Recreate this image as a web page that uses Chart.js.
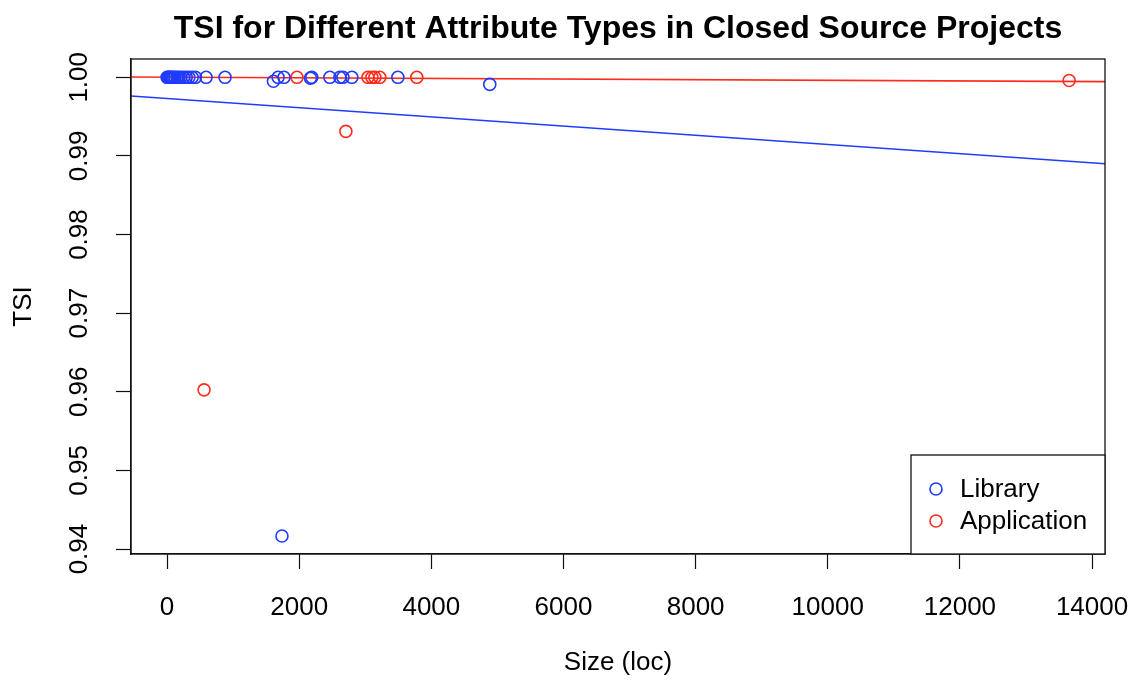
<!DOCTYPE html>
<html>
<head>
<meta charset="utf-8">
<script src="https://cdn.jsdelivr.net/npm/chart.js@4"></script>
<style>
  html, body { margin: 0; padding: 0; background: #fff; }
  canvas { display: block; }
</style>
</head>
<body>
<canvas id="c" width="1134" height="683"></canvas>
<script>
// data
const libSize = [0, 15, 30, 45, 60, 80, 100, 120, 150, 180, 210, 250, 290, 330, 380, 430,
  590, 877, 1610, 1680, 1770, 1739, 2170, 2190, 2464, 2616, 2661, 2797, 3493, 4884];
const libTsi = [1, 1, 1, 1, 1, 1, 1, 1, 1, 1, 1, 1, 1, 1, 1, 1,
  1, 1, 0.9995, 1, 1, 0.94166, 0.9999, 1, 1, 1, 1, 1, 1, 0.9991];

const appSize = [560, 1966, 2706, 3040, 3100, 3145, 3220, 3780, 13653];
const appTsi = [0.96025, 1, 0.99312, 1, 1, 1, 1, 1, 0.9996];

// fitted lines (abline of lm)
const libFit = [0.99730, -5.84e-7];   // intercept, slope
const appFit = [1.00002, -4.0e-8];

const xLimits = [-546, 14196];
const yLimits = [0.93937, 1.00233];
const xTicks = [0, 2000, 4000, 6000, 8000, 10000, 12000, 14000];
const yTicks = [0.94, 0.95, 0.96, 0.97, 0.98, 0.99, 1.00];
const yTickLabels = ['0.94', '0.95', '0.96', '0.97', '0.98', '0.99', '1.00'];

const blue = '#1f3cff';
const red = '#ff2b1c';
const fontFam = "'Liberation Sans', Arial, Helvetica, sans-serif";

Chart.defaults.font.family = fontFam;
Chart.defaults.color = '#000';

function pts(xs, ys) {
  return xs.map((x, i) => ({ x: x, y: ys[i] }));
}
function fitLine(fit) {
  return xLimits.map(x => ({ x: x, y: fit[0] + fit[1] * x }));
}

const boxPlugin = {
  id: 'rbox',
  afterDraw(chart) {
    const ctx = chart.ctx;
    const a = chart.chartArea;
    ctx.save();
    ctx.strokeStyle = '#111';
    ctx.lineWidth = 1.3;
    ctx.strokeRect(a.left, a.top, a.right - a.left, a.bottom - a.top);

    // title
    ctx.fillStyle = '#000';
    ctx.font = 'bold 32px ' + fontFam;
    ctx.textAlign = 'center';
    ctx.textBaseline = 'middle';
    ctx.fillText('TSI for Different Attribute Types in Closed Source Projects', (a.left + a.right) / 2, 29);

    // legend
    const lx = 911, ly = 455;
    ctx.fillStyle = '#fff';
    ctx.fillRect(lx, ly, a.right - lx, a.bottom - ly);
    ctx.strokeRect(lx, ly, a.right - lx, a.bottom - ly);
    ctx.font = '26px ' + fontFam;
    ctx.textAlign = 'left';
    chart.data.datasets.slice(0, 2).forEach((ds, i) => {
      const cy = 489 + i * 32;
      ctx.beginPath();
      ctx.arc(936, cy, 6, 0, Math.PI * 2);
      ctx.strokeStyle = ds.borderColor;
      ctx.lineWidth = 1.6;
      ctx.stroke();
      ctx.fillStyle = '#000';
      ctx.fillText(ds.label, 960, cy + 1);
    });
    ctx.restore();
  }
};

new Chart(document.getElementById('c'), {
  type: 'scatter',
  data: {
    datasets: [
      {
        label: 'Library',
        data: pts(libSize, libTsi),
        borderColor: blue,
        backgroundColor: 'rgba(0,0,0,0)',
        pointRadius: 6,
        borderWidth: 1.6
      },
      {
        label: 'Application',
        data: pts(appSize, appTsi),
        borderColor: red,
        backgroundColor: 'rgba(0,0,0,0)',
        pointRadius: 6,
        borderWidth: 1.6
      },
      {
        label: 'lib fit',
        data: fitLine(libFit),
        showLine: true,
        borderColor: blue,
        borderWidth: 1.6,
        pointRadius: 0
      },
      {
        label: 'app fit',
        data: fitLine(appFit),
        showLine: true,
        borderColor: red,
        borderWidth: 1.6,
        pointRadius: 0
      }
    ]
  },
  options: {
    responsive: false,
    animation: false,
    devicePixelRatio: 1,
    layout: { padding: { top: 59, right: 29, left: 0, bottom: 0 } },
    plugins: {
      legend: { display: false },
      tooltip: { enabled: false },
      title: { display: false }
    },
    scales: {
      x: {
        type: 'linear',
        min: xLimits[0],
        max: xLimits[1],
        afterBuildTicks: s => { s.ticks = xTicks.map(v => ({ value: v })); },
        afterFit: s => { s.height = 129; s.paddingLeft = 0; s.paddingRight = 0; },
        grid: { drawOnChartArea: false, drawTicks: true, tickLength: 15, color: '#111', tickWidth: 1.2 },
        border: { display: true, color: '#111', width: 1.3 },
        ticks: { font: { size: 26 }, padding: 23, maxRotation: 0, autoSkip: false, color: '#000',
          callback: v => String(v) },
        title: { display: true, text: 'Size (loc)', font: { size: 26 }, padding: { bottom: 5, top: 0 }, color: '#000' }
      },
      y: {
        type: 'linear',
        min: yLimits[0],
        max: yLimits[1],
        afterBuildTicks: s => { s.ticks = yTicks.map(v => ({ value: v })); },
        afterFit: s => { s.width = 131; s.paddingTop = 0; s.paddingBottom = 0; },
        grid: { drawOnChartArea: false, drawTicks: true, tickLength: 15, color: '#111', tickWidth: 1.2 },
        border: { display: true, color: '#111', width: 1.3 },
        ticks: { font: { size: 26 }, padding: 11, minRotation: 90, maxRotation: 90, crossAlign: 'center',
          autoSkip: false, color: '#000',
          callback: v => yTickLabels[yTicks.findIndex(t => Math.abs(t - v) < 1e-9)] },
        title: { display: true, text: 'TSI', font: { size: 26 }, padding: { top: 8, bottom: 0 }, color: '#000' }
      }
    }
  },
  plugins: [boxPlugin]
});
</script>
</body>
</html>
